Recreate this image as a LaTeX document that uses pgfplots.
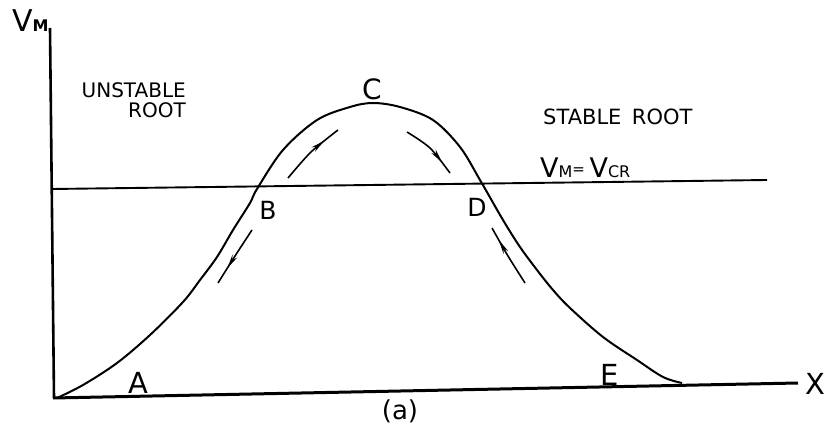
\documentclass[border=0pt]{standalone}
\usepackage{fontspec}
\setmainfont{DejaVu Sans}
\usepackage{pgfplots}
\pgfplotsset{compat=1.18}
\usetikzlibrary{arrows.meta,decorations.markings}

% root locus of V_M along X: hump through B, C, D
\newcommand{\lbl}[1]{\fontsize{#1}{#1}\selectfont}
\tikzset{
  midarrow/.style={decoration={markings,mark=at position #1 with {\arrow{Stealth[length=14pt,width=5.5pt]}}},postaction={decorate}}
}

\begin{document}
\begin{tikzpicture}
\begin{axis}[
  width=825pt, height=429pt, scale only axis,
  xmin=0, xmax=825, ymin=0, ymax=429,
  hide axis, clip=false,
]
% frame extent
\addplot[draw=none] coordinates {(0,0) (825,429)};

% axes
\addplot[black, line width=3pt] coordinates {(53,31) (798,46)};
\addplot[black, line width=2.6pt] coordinates {(50,401) (54,31)};

% critical level V_M = V_CR
\addplot[black, line width=1.9pt] coordinates {(52,240) (767,249)};

% V_M curve
\addplot[black, line width=2pt, smooth, tension=0.55] coordinates {
 (57,31) (83,44) (117,66) (150,94) (183,127) (200,149) (217,172)
 (233,199) (250,226) (257,240) (283,279) (317,309) (350,322) (373,326)
 (400,322) (433,309) (460,282) (480,249) (503,209) (520,182) (537,159)
 (553,139) (570,121) (603,92) (637,69) (663,52) (682,46)};

% direction of motion along the curve
\addplot[black, line width=1.6pt, smooth, midarrow=0.72] coordinates {(252,199) (235,173) (218,146)};
\addplot[black, line width=1.6pt, smooth, midarrow=0.75] coordinates {(288,251) (311,277) (338,299)};
\addplot[black, line width=1.6pt, smooth, midarrow=0.78] coordinates {(407,297) (430,281) (450,256)};
\addplot[black, line width=1.6pt, smooth, midarrow=0.78] coordinates {(525,146) (508,173) (492,201)};

% labels
\node[anchor=base west, inner sep=0pt] at (axis cs:12,397) {\lbl{30}V\lbl{16}\textbf{M}};
\node[anchor=base east, inner sep=0pt] at (axis cs:186,331) {\lbl{20}UNSTABLE};
\node[anchor=base east, inner sep=0pt] at (axis cs:186,311) {\lbl{20}ROOT};
\node[anchor=base west, inner sep=0pt] at (axis cs:543,304) {\lbl{21}STABLE\hspace{0.5em}ROOT};
\node[anchor=base west, inner sep=0pt] at (axis cs:540,251) {\lbl{27}V\lbl{16}M\raisebox{0.35ex}{\lbl{15}=}\lbl{27}\,V\lbl{16}CR};
\node[anchor=base, inner sep=0pt] at (axis cs:372,329) {\lbl{28}C};
\node[anchor=base, inner sep=0pt] at (axis cs:268,209) {\lbl{25}B};
\node[anchor=base, inner sep=0pt] at (axis cs:477,212) {\lbl{25}D};
\node[anchor=base, inner sep=0pt] at (axis cs:138,36) {\lbl{29}A};
\node[anchor=base, inner sep=0pt] at (axis cs:610,44) {\lbl{29}E};
\node[anchor=center, inner sep=0pt] at (axis cs:815,45) {\lbl{29}X};
\node[anchor=center, inner sep=0pt] at (axis cs:400,18) {\lbl{26}(a)};
\end{axis}
\end{tikzpicture}
\end{document}
